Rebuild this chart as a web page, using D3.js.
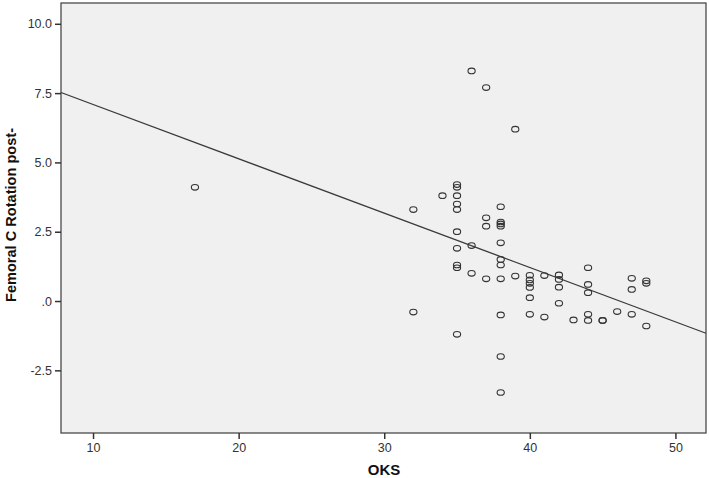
<!DOCTYPE html>
<html><head><meta charset="utf-8">
<script src="https://cdn.jsdelivr.net/npm/d3@7"></script>
<style>
html,body{margin:0;padding:0;background:#fff;}
text{font-family:"Liberation Sans",Arial,sans-serif;}
</style></head>
<body><svg id="c" width="709" height="478"></svg>
<script>
// Data
const oks = [17, 36, 37, 39,
  32, 32, 34,
  35, 35, 35, 35, 35, 35, 35, 35, 35, 35,
  36, 36, 37, 37, 37,
  38, 38, 38, 38, 38, 38, 38, 38, 38, 38, 38,
  39, 40, 40, 40, 40, 40, 40,
  41, 41, 42, 42, 42, 42, 43,
  44, 44, 44, 44, 44, 45, 45, 46,
  47, 47, 47, 48, 48, 48];
const rotation = [4.1, 8.3, 7.7, 6.2,
  3.3, -0.4, 3.8,
  4.2, 4.1, 3.8, 3.5, 3.3, 2.5, 1.9, 1.3, 1.2, -1.2,
  2.0, 1.0, 3.0, 2.7, 0.8,
  3.4, 2.85, 2.78, 2.7, 2.1, 1.5, 1.3, 0.8, -0.5, -2.0, -3.3,
  0.9, 0.93, 0.76, 0.64, 0.49, 0.12, -0.48,
  0.92, -0.58, 0.94, 0.78, 0.5, -0.08, -0.68,
  1.2, 0.6, 0.3, -0.48, -0.7, -0.7, -0.7, -0.38,
  0.82, 0.42, -0.48, 0.73, 0.64, -0.9];
const xTicks = [10, 20, 30, 40, 50];
const yTicks = [-2.5, 0, 2.5, 5.0, 7.5, 10.0];
const yTickLabels = ["-2.5", ".0", "2.5", "5.0", "7.5", "10.0"];
const fitIntercept = 9.05;
const fitSlope = -0.196;
const xLabel = "OKS";
const yLabel = "Femoral C Rotation post-";

const svg = d3.select("#c");
const L = 61, R = 706, T = 3, B = 433;
const x = d3.scaleLinear().domain([7.8, 52.1]).range([L, R]);
const y = d3.scaleLinear().domain([-4.76, 10.75]).range([B, T]);

svg.append("rect").attr("x", L).attr("y", T).attr("width", R - L).attr("height", B - T)
  .attr("fill", "#f0f0f0").attr("stroke", "#4a4a4a").attr("stroke-width", 1.3);

const xAxis = svg.append("g").attr("transform", `translate(0,${B})`)
  .call(d3.axisBottom(x).tickValues(xTicks).tickSize(6).tickPadding(4).tickFormat(d3.format("d")));
const yAxis = svg.append("g").attr("transform", `translate(${L},0)`)
  .call(d3.axisLeft(y).tickValues(yTicks).tickSize(6).tickPadding(3)
    .tickFormat((d, i) => yTickLabels[yTicks.indexOf(d)]));
[xAxis, yAxis].forEach(g => {
  g.select(".domain").remove();
  g.selectAll(".tick line").attr("stroke", "#333").attr("stroke-width", 1.5);
  g.selectAll(".tick text").attr("fill", "#333").style("font-size", "12.5px")
    .style("font-family", "'Liberation Sans',Arial,sans-serif");
});

// Fit line
const xd = x.domain();
svg.append("line")
  .attr("x1", x(xd[0])).attr("y1", y(fitIntercept + fitSlope * xd[0]))
  .attr("x2", x(xd[1])).attr("y2", y(fitIntercept + fitSlope * xd[1]))
  .attr("stroke", "#3a3a3a").attr("stroke-width", 1.3);

// Points
svg.append("g").selectAll("ellipse").data(oks.map((d, i) => [d, rotation[i]]))
  .join("ellipse")
  .attr("cx", d => x(d[0])).attr("cy", d => y(d[1]))
  .attr("rx", 3.6).attr("ry", 2.8)
  .attr("fill", "none").attr("stroke", "#333").attr("stroke-width", 1.1);

// Titles
svg.append("text").attr("x", 384).attr("y", 475).attr("text-anchor", "middle")
  .attr("font-weight", "bold").attr("font-size", 15).attr("fill", "#111").text(xLabel);
svg.append("text").attr("transform", `translate(16,215) rotate(-90)`)
  .attr("text-anchor", "middle").attr("font-weight", "bold").attr("font-size", 14).attr("fill", "#111")
  .attr("textLength", 174).attr("lengthAdjust", "spacingAndGlyphs")
  .text(yLabel);
</script></body></html>
